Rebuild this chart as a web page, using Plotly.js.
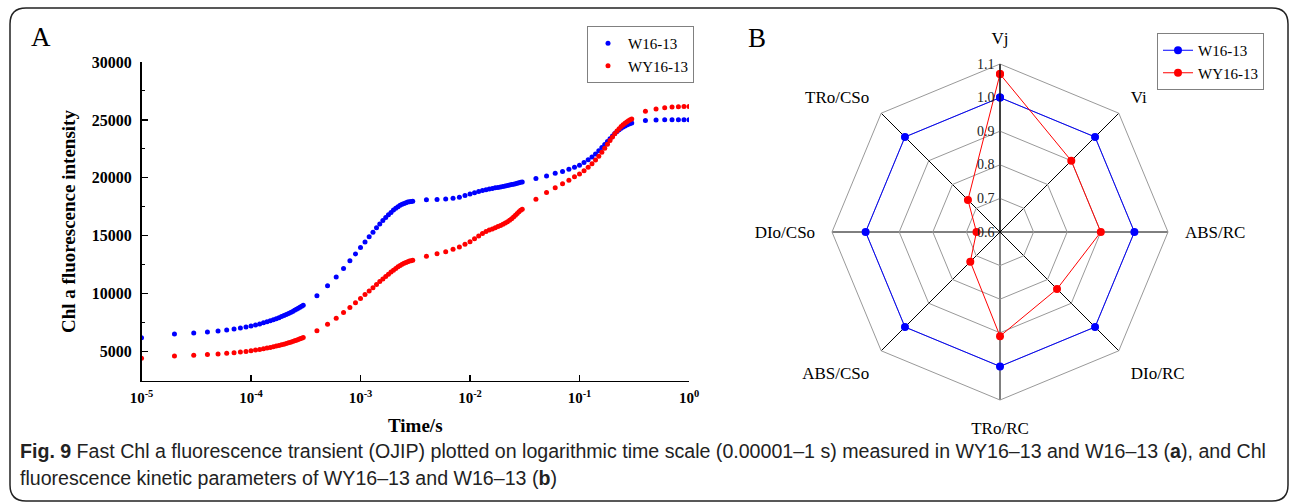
<!DOCTYPE html>
<html><head><meta charset="utf-8">
<script src="https://cdn.plot.ly/plotly-3.0.1.min.js"></script>
<style>html,body{margin:0;padding:0;background:#fff;} #chart{width:1290px;height:504px;}</style>
</head><body><div id="chart"></div>
<script>
// ---- Panel A data: OJIP transient (time in s) ----
const timeS = [
1e-5,2e-5,3e-5,4e-5,5e-5,6e-5,7e-5,8e-5,9e-5,1e-4,
1.1e-4,1.2e-4,1.3e-4,1.4e-4,1.5e-4,1.6e-4,1.7e-4,1.8e-4,1.9e-4,2e-4,
2.1e-4,2.2e-4,2.3e-4,2.4e-4,2.5e-4,2.6e-4,2.7e-4,2.8e-4,2.9e-4,3e-4,
4e-4,5e-4,6e-4,7e-4,8e-4,9e-4,1e-3,
1.1e-3,1.2e-3,1.3e-3,1.4e-3,1.5e-3,1.6e-3,1.7e-3,1.8e-3,1.9e-3,2e-3,
2.1e-3,2.2e-3,2.3e-3,2.4e-3,2.5e-3,2.6e-3,2.7e-3,2.8e-3,2.9e-3,3e-3,
4e-3,5e-3,6e-3,7e-3,8e-3,9e-3,1e-2,
1.1e-2,1.2e-2,1.3e-2,1.4e-2,1.5e-2,1.6e-2,1.7e-2,1.8e-2,1.9e-2,2e-2,
2.1e-2,2.2e-2,2.3e-2,2.4e-2,2.5e-2,2.6e-2,2.7e-2,2.8e-2,2.9e-2,3e-2,
4e-2,5e-2,6e-2,7e-2,8e-2,9e-2,0.1,
0.11,0.12,0.13,0.14,0.15,0.16,0.17,0.18,0.19,0.2,
0.21,0.22,0.23,0.24,0.25,0.26,0.27,0.28,0.29,0.3,
0.4,0.5,0.6,0.7,0.8,0.9,1.0
];
const w1613Intensity = [
6210,6530,6620,6710,6790,6880,6960,7050,7140,7230,
7310,7400,7490,7580,7670,7760,7850,7940,8030,8120,
8210,8300,8390,8480,8570,8660,8750,8840,8930,9000,
9830,10690,11450,12190,12860,13440,13990,
14470,14920,15320,15690,16020,16320,16590,16820,17020,17220,
17370,17510,17630,17720,17800,17860,17910,17950,17970,17980,
18120,18140,18180,18250,18330,18480,18600,
18720,18830,18910,18980,19040,19090,19140,19180,19220,19260,
19300,19340,19380,19420,19460,19500,19540,19580,19620,19650,
19940,20170,20400,20550,20750,20920,21090,
21330,21560,21800,22070,22350,22620,22880,23130,23380,23620,
23830,24010,24160,24280,24390,24480,24560,24630,24690,24740,
24960,25000,25010,25010,25010,25010,25010
];
const wy1613Intensity = [
4430,4630,4690,4750,4800,4860,4910,4970,5030,5090,
5145,5200,5260,5315,5370,5430,5485,5540,5600,5655,
5710,5770,5825,5880,5940,5995,6050,6110,6165,6220,
6820,7370,7890,8380,8810,9220,9590,
9930,10240,10530,10800,11050,11280,11490,11690,11870,12040,
12190,12330,12450,12550,12640,12710,12770,12820,12860,12890,
13230,13450,13630,13840,14040,14270,14500,
14750,14980,15200,15370,15500,15600,15700,15800,15900,16000,
16100,16220,16350,16480,16620,16770,16920,17070,17200,17300,
18150,18730,19160,19500,19790,20100,20340,
20620,20910,21220,21540,21870,22210,22560,22900,23220,23530,
23800,24040,24250,24430,24590,24720,24830,24930,25010,25080,
25750,25950,26050,26110,26140,26160,26170
];
const timeTickVals = [1e-5,1e-4,1e-3,1e-2,1e-1,1];
const timeTickText = ['10<sup>-5</sup>','10<sup>-4</sup>','10<sup>-3</sup>','10<sup>-2</sup>','10<sup>-1</sup>','10<sup>0</sup>'];
const intensityTicks = [5000,10000,15000,20000,25000,30000];
const intensityTickText = ['5000','10000','15000','20000','25000','30000'];
const intensityMinorTicks = [7500,12500,17500,22500,27500];

// ---- Panel B data: radar of kinetic parameters ----
const radarCats = ['Vj','Vi','ABS/RC','DIo/RC','TRo/RC','ABS/CSo','DIo/CSo','TRo/CSo'];
const radarW1613 = [1.0,1.0,1.0,1.0,1.0,1.0,1.0,1.0];
const radarWY1613 = [1.07,0.90,0.90,0.84,0.91,0.725,0.67,0.735];
const radialTicks = [0.6,0.7,0.8,0.9,1.0,1.1];
const radialTickText = ['0.6','0.7','0.8','0.9','1.0','1.1'];

const W = 1290, H = 504;
const px = x => x / W, py = y => 1 - y / H;
const SERIF = 'Liberation Serif, Times New Roman, serif';
const SANS = 'Liberation Sans, Arial, sans-serif';
const close = a => a.concat([a[0]]);

const traces = [
  {type:'scatter', mode:'markers', x: timeS, y: w1613Intensity, name:'W16-13',
   marker:{color:'#0000ff', size:5}, xaxis:'x', yaxis:'y', legend:'legend', hoverinfo:'skip'},
  {type:'scatter', mode:'markers', x: timeS, y: wy1613Intensity, name:'WY16-13',
   marker:{color:'#ff0000', size:5}, xaxis:'x', yaxis:'y', legend:'legend', hoverinfo:'skip'},
  {type:'scatterpolar', mode:'lines+markers', r: close(radarW1613), theta: close(radarCats), name:'W16-13',
   line:{color:'#0000ff', width:1}, marker:{color:'#0000ff', size:8}, subplot:'polar', legend:'legend2', hoverinfo:'skip'},
  {type:'scatterpolar', mode:'lines+markers', r: close(radarWY1613), theta: close(radarCats), name:'WY16-13',
   line:{color:'#ff0000', width:1}, marker:{color:'#ff0000', size:8}, subplot:'polar', legend:'legend2', hoverinfo:'skip'}
];

// rounded frame
const fx0=10, fy0=8, fx1=1288, fy1=501, rr=16;
const framePath = [
  'M', px(fx0+rr), py(fy0), 'L', px(fx1-rr), py(fy0),
  'Q', px(fx1), py(fy0), px(fx1), py(fy0+rr),
  'L', px(fx1), py(fy1-rr),
  'Q', px(fx1), py(fy1), px(fx1-rr), py(fy1),
  'L', px(fx0+rr), py(fy1),
  'Q', px(fx0), py(fy1), px(fx0), py(fy1-rr),
  'L', px(fx0), py(fy0+rr),
  'Q', px(fx0), py(fy0), px(fx0+rr), py(fy0), 'Z'
].join(' ');

function note(text, x, y, size, extra) {
  return Object.assign({text, x:px(x), y:py(y), xref:'paper', yref:'paper', showarrow:false,
    xanchor:'center', yanchor:'middle', font:{family:SERIF, size, color:'#000'}}, extra || {});
}

const layout = {
  width: W, height: H,
  margin:{l:0,r:0,t:0,b:0},
  paper_bgcolor:'#fff', plot_bgcolor:'#fff',
  font:{family:SERIF, color:'#000'},
  xaxis:{domain:[px(141.5), px(689)], type:'log', range:[-5,0],
    tickvals: timeTickVals, ticktext: timeTickText,
    ticks:'inside', ticklen:6, tickwidth:1.2, tickcolor:'#000',
    showline:true, linecolor:'#000', linewidth:1.5, showgrid:false, zeroline:false,
    tickfont:{family:SERIF, size:15, color:'#000', weight:'bold'}, ticklabelstandoff:3,
    anchor:'y', automargin:false, fixedrange:true},
  yaxis:{domain:[py(380.7), py(62)], range:[2500,30000],
    tickvals: intensityTicks, ticktext: intensityTickText,
    ticks:'inside', ticklen:6, tickwidth:1.2, tickcolor:'#000',
    minor:{tickvals: intensityMinorTicks, ticks:'inside', ticklen:3, tickcolor:'#000', tickwidth:1},
    showline:true, linecolor:'#000', linewidth:1.5, showgrid:false, zeroline:false,
    tickfont:{family:SERIF, size:16, color:'#000', weight:'bold'}, ticklabelstandoff:5,
    anchor:'x', automargin:false, fixedrange:true},
  legend:{x:px(587), y:py(26), xanchor:'left', yanchor:'top', bgcolor:'#fff',
    bordercolor:'#808080', borderwidth:1, font:{family:SERIF, size:15, color:'#000'},
    tracegroupgap:0, itemwidth:30},
  legend2:{x:px(1157), y:py(33), xanchor:'left', yanchor:'top', bgcolor:'#fff',
    bordercolor:'#808080', borderwidth:1, font:{family:SERIF, size:15, color:'#000'},
    tracegroupgap:0, itemwidth:30},
  polar:{domain:{x:[px(832), px(1168)], y:[py(400), py(64)]},
    gridshape:'linear', bgcolor:'#fff',
    radialaxis:{range:[0.6,1.1], tickvals: radialTicks, ticktext: radialTickText,
      angle:90, side:'counterclockwise', tickangle:90,
      showline:true, linecolor:'#000', linewidth:1, gridcolor:'#999', gridwidth:1,
      ticks:'', tickfont:{family:SERIF, size:14, color:'#222'}},
    angularaxis:{type:'category', categoryarray: radarCats, rotation:90, direction:'clockwise',
      gridcolor:'#000', gridwidth:1, showline:true, linecolor:'#999', linewidth:1,
      ticks:'outside', ticklen:13, tickcolor:'rgba(0,0,0,0)',
      tickfont:{family:SERIF, size:17, color:'#000'}}},
  shapes:[{type:'path', xref:'paper', yref:'paper', path: framePath,
    line:{color:'#222', width:1.5}, fillcolor:'rgba(0,0,0,0)'}],
  annotations:[
    note('A', 41, 37, 27),
    note('B', 757, 38, 27),
    note('<b>Chl a fluorescence intensity</b>', 68, 222, 19, {textangle:-90}),
    note('<b>Time/s</b>', 415, 425, 19),
    note('<b>Fig. 9</b> Fast Chl a fluorescence transient (OJIP) plotted on logarithmic time scale (0.00001–1 s) measured in WY16–13 and W16–13 (<b>a</b>), and Chl',
      18, 451, 19.6, {xanchor:'left', font:{family:SANS, size:19.6, color:'#222'}}),
    note('fluorescence kinetic parameters of WY16–13 and W16–13 (<b>b</b>)',
      18, 478, 19.6, {xanchor:'left', font:{family:SANS, size:19.6, color:'#222'}})
  ],
  showlegend:true
};

Plotly.newPlot('chart', traces, layout, {displayModeBar:false, staticPlot:true});
</script></body></html>
